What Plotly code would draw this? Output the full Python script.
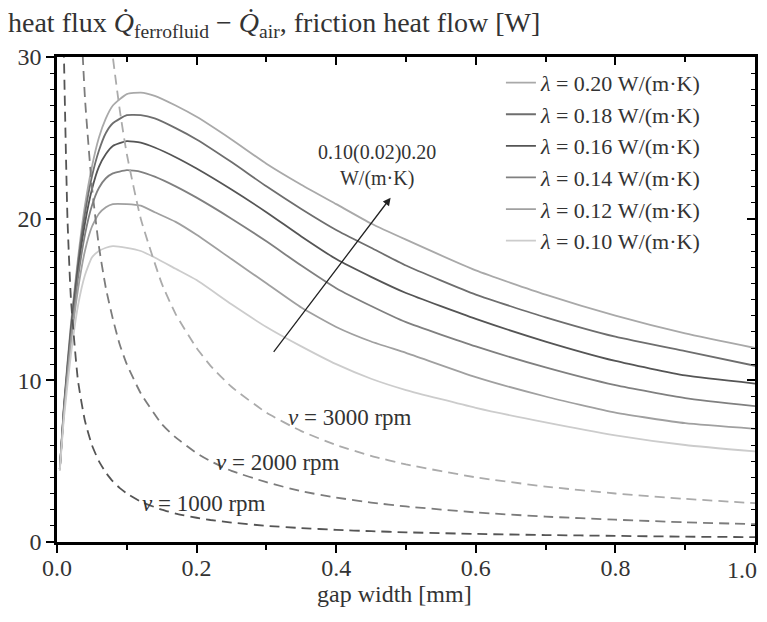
import plotly.graph_objects as go

# gap width samples [mm]
gap_solid = [0.004, 0.01, 0.02, 0.03, 0.04, 0.05, 0.06, 0.07, 0.08, 0.10, 0.12, 0.14, 0.17,
             0.2, 0.25, 0.3, 0.35, 0.4, 0.45, 0.5, 0.6, 0.7, 0.8, 0.9, 1.0]

lam_020 = [4.5, 8.5, 13.5, 17.5, 20.8, 23.2, 25.0, 26.2, 27.0, 27.7, 27.8, 27.6, 27.0,
           26.3, 24.9, 23.4, 22.1, 20.9, 19.7, 18.7, 16.8, 15.3, 14.0, 12.9, 12.0]
lam_018 = [4.5, 8.4, 13.3, 17.2, 20.3, 22.6, 24.2, 25.3, 25.9, 26.4, 26.4, 26.2, 25.6,
           24.9, 23.5, 22.0, 20.6, 19.3, 18.2, 17.1, 15.3, 13.9, 12.7, 11.8, 10.9]
lam_016 = [4.5, 8.3, 13.0, 16.8, 19.7, 21.8, 23.2, 24.0, 24.5, 24.8, 24.7, 24.4, 23.8,
           23.1, 21.8, 20.4, 18.9, 17.5, 16.4, 15.4, 13.8, 12.4, 11.2, 10.3, 9.8]
lam_014 = [4.5, 8.2, 12.7, 16.3, 19.0, 20.8, 21.9, 22.5, 22.8, 23.0, 22.9, 22.6, 22.0,
           21.3, 20.0, 18.6, 17.1, 15.7, 14.6, 13.6, 12.1, 10.8, 9.7, 8.9, 8.4]
lam_012 = [4.5, 8.0, 12.3, 15.6, 18.0, 19.5, 20.3, 20.7, 20.9, 20.9, 20.8, 20.4, 19.8,
           19.0, 17.5, 16.0, 14.5, 13.3, 12.4, 11.7, 10.2, 9.0, 8.0, 7.35, 7.0]
lam_010 = [4.4, 7.7, 11.6, 14.6, 16.5, 17.6, 18.0, 18.2, 18.3, 18.2, 18.0, 17.6, 16.9,
           16.2, 14.7, 13.3, 12.1, 11.0, 10.1, 9.4, 8.3, 7.4, 6.6, 6.0, 5.6]

gap_dash = [0.008, 0.01, 0.015, 0.02, 0.03, 0.04, 0.05, 0.06, 0.07, 0.08, 0.09, 0.10, 0.12,
            0.15, 0.17, 0.2, 0.22, 0.25, 0.3, 0.35, 0.4, 0.45, 0.5, 0.6, 0.7, 0.8, 0.9, 1.0]
rpm_1000 = [37.5, 30.0, 20.0, 15.0, 10.0, 7.5, 6.0, 5.0, 4.29, 3.75, 3.33, 3.0, 2.5,
            2.0, 1.76, 1.5, 1.36, 1.2, 1.0, 0.86, 0.75, 0.67, 0.6, 0.5, 0.43, 0.38, 0.33, 0.3]
rpm_2000 = [137.0, 110.0, 73.0, 55.0, 36.7, 27.5, 22.0, 18.3, 15.7, 13.8, 12.2, 11.0, 9.2,
            7.3, 6.47, 5.5, 5.0, 4.4, 3.7, 3.14, 2.75, 2.44, 2.2, 1.83, 1.57, 1.38, 1.22, 1.1]
rpm_3000 = [300.0, 240.0, 160.0, 120.0, 80.0, 60.0, 48.0, 40.0, 34.3, 30.0, 26.7, 24.0, 20.0,
            16.0, 14.1, 12.0, 10.9, 9.6, 8.0, 6.86, 6.0, 5.33, 4.8, 4.0, 3.43, 3.0, 2.67, 2.4]

x_tickvals = [0, 0.2, 0.4, 0.6, 0.8, 1.0]
x_ticktext = ["0.0", "0.2", "0.4", "0.6", "0.8", "1.0"]
y_tickvals = [0, 10, 20, 30]

solid_series = [("0.20", lam_020, "#a9a9a9"), ("0.18", lam_018, "#6e6e6e"),
                ("0.16", lam_016, "#555555"), ("0.14", lam_014, "#808080"),
                ("0.12", lam_012, "#a0a0a0"), ("0.10", lam_010, "#cccccc")]
dash_series = [("1000", rpm_1000, "#555555"), ("2000", rpm_2000, "#7c7c7c"),
               ("3000", rpm_3000, "#ababab")]
rpm_label_pos = {"1000": (0.21, 2.4), "2000": (0.316, 4.9), "3000": (0.42, 7.7)}

SERIF = "Liberation Serif"
TXT = "#333333"

fig = go.Figure()
for name, ys, col in solid_series:
    fig.add_trace(go.Scatter(
        x=gap_solid, y=ys, mode="lines",
        line=dict(color=col, width=1.8, shape="spline", smoothing=0.5),
        name=f"<i>λ</i> = {name} W/(m·K)", legendgroup=name))
for name, ys, col in dash_series:
    fig.add_trace(go.Scatter(
        x=gap_dash, y=ys, mode="lines",
        line=dict(color=col, width=1.8, dash="10px,6px", shape="spline", smoothing=0.5),
        showlegend=False))
    lx, ly = rpm_label_pos[name]
    fig.add_annotation(x=lx, y=ly, text=f"<i>ν</i> = {name} rpm", showarrow=False,
                       font=dict(family=SERIF, size=23, color=TXT))

# arrow indicating increasing lambda
fig.add_annotation(x=0.478, y=21.3, ax=0.304, ay=11.4, axref="x", ayref="y",
                   text=" ", showarrow=True, arrowhead=2, arrowsize=1.2, arrowwidth=1.3,
                   arrowcolor="#222222")
fig.add_annotation(x=0.459, y=23.3, text="0.10(0.02)0.20<br>W/(m·K)", showarrow=False,
                   font=dict(family=SERIF, size=20, color=TXT))

# x-axis title
fig.add_annotation(xref="paper", yref="paper", x=0.483, y=-0.108, text="gap width [mm]",
                   showarrow=False, yanchor="middle", font=dict(family=SERIF, size=24, color=TXT))
# last x tick label, right-aligned so it stays inside the page
fig.add_annotation(xref="paper", yref="paper", x=1.0, y=-0.058, text=x_ticktext[-1],
                   showarrow=False, xanchor="right", yanchor="middle", xshift=4,
                   font=dict(family=SERIF, size=24, color=TXT))

# page body has an 8px offset: figure is sized to fit inside it
fig.update_layout(
    width=751, height=606,
    margin=dict(l=49, r=4, t=49, b=72, autoexpand=False),
    paper_bgcolor="white", plot_bgcolor="white",
    font=dict(family=SERIF, size=24, color=TXT),
    title=dict(text="heat flux <i>Q̇</i><sub>ferrofluid</sub> − <i>Q̇</i><sub>air</sub>, friction heat flow [W]",
               xref="container", yref="container", x=0.0, y=0.977, xanchor="left", yanchor="middle",
               font=dict(family=SERIF, size=28, color=TXT)),
    legend=dict(x=0.636, y=0.99, xanchor="left", yanchor="top", bgcolor="rgba(0,0,0,0)",
                font=dict(family=SERIF, size=22, color=TXT), tracegroupgap=0,
                itemwidth=30),
    showlegend=True,
    xaxis=dict(range=[0, 1.0], tickvals=x_tickvals,
               ticktext=x_ticktext[:-1] + [""], automargin=False,
               ticklabeloverflow="allow", ticklabelstandoff=-6,
               ticks="outside", ticklen=8, tickwidth=1.5, tickcolor="black",
               minor=dict(tickvals=[0.1, 0.3, 0.5, 0.7, 0.9], ticklen=5, ticks="outside",
                          tickcolor="black", tickwidth=1.5),
               showline=True, linewidth=2.5, linecolor="black", mirror=True,
               showgrid=False, zeroline=False),
    yaxis=dict(range=[0, 30], tickvals=y_tickvals, automargin=False,
               ticklabeloverflow="allow",
               ticks="outside", ticklen=8, tickwidth=1.5, tickcolor="black",
               minor=dict(dtick=1, ticklen=4, ticks="outside", tickcolor="black", tickwidth=1.2),
               showline=True, linewidth=2.5, linecolor="black", mirror=True,
               showgrid=False, zeroline=False),
    xaxis2=dict(range=[0, 1.0], overlaying="x", side="top", tickvals=x_tickvals,
                ticks="inside", ticklen=8, tickwidth=1.5, tickcolor="black", showticklabels=False,
                minor=dict(tickvals=[0.1, 0.3, 0.5, 0.7, 0.9], ticklen=5, ticks="inside",
                           tickcolor="black", tickwidth=1.5),
                showgrid=False, zeroline=False, showline=False, automargin=False),
    yaxis2=dict(range=[0, 30], overlaying="y", side="right", tickvals=y_tickvals,
                ticks="inside", ticklen=8, tickwidth=1.5, tickcolor="black", showticklabels=False,
                minor=dict(dtick=1, ticklen=4, ticks="inside", tickcolor="black", tickwidth=1.2),
                showgrid=False, zeroline=False, showline=False, automargin=False),
)
# invisible helper trace so the mirrored inner-tick axes are rendered
fig.add_trace(go.Scatter(x=[None], y=[None], xaxis="x2", yaxis="y2", showlegend=False, hoverinfo="skip"))

fig.write_html("out.html")
